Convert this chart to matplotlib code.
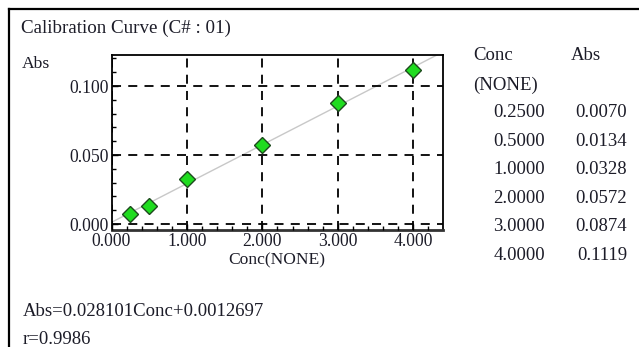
import matplotlib
matplotlib.use('Agg')
import matplotlib.pyplot as plt
from matplotlib.ticker import MultipleLocator, FormatStrFormatter
import numpy as np

plt.rcParams['font.family'] = ['Liberation Serif', 'DejaVu Serif']

# data
conc = [0.25, 0.5, 1.0, 2.0, 3.0, 4.0]
absorb = [0.0070, 0.0134, 0.0328, 0.0572, 0.0874, 0.1119]
slope = 0.028101
intercept = 0.0012697
r_value = 0.9986

W, H = 639, 347
fig = plt.figure(figsize=(W / 100, H / 100), dpi=100)
fig.patch.set_facecolor('white')

def fx(px):
    return px / W

def fy(py):
    return 1 - py / H

# outer frame (left and top only visible)
fig.add_artist(plt.Line2D([fx(9), fx(9)], [fy(9), fy(H + 5)], color='black', lw=1.6))
fig.add_artist(plt.Line2D([fx(9), fx(W + 5)], [fy(9), fy(9)], color='black', lw=1.6))

txt_color = '#1c1c28'

# plot area
ax_l, ax_r, ax_t, ax_b = 111.5, 442.7, 55, 230
ax = fig.add_axes([fx(ax_l), fy(ax_b), fx(ax_r - ax_l), (ax_b - ax_t) / H])

x_line = np.linspace(0, 4.6, 50)
ax.plot(x_line, slope * x_line + intercept, color='#c8c8c8', lw=1.0, zorder=2)
ax.plot(conc, absorb, linestyle='none', marker='D', markersize=8,
        markerfacecolor='#1fdc1f', markeredgecolor='#1d4a1d', markeredgewidth=1.0, zorder=3)

ax.set_xlim(0, 4.39)
ax.set_ylim(-0.0043, 0.1225)

ax.xaxis.set_major_locator(MultipleLocator(1.0))
ax.xaxis.set_minor_locator(MultipleLocator(0.2))
ax.yaxis.set_major_locator(MultipleLocator(0.05))
ax.yaxis.set_minor_locator(MultipleLocator(0.01))
ax.xaxis.set_major_formatter(FormatStrFormatter('%.3f'))
ax.yaxis.set_major_formatter(FormatStrFormatter('%.3f'))

ax.grid(True, which='major', color='black', linestyle=(0, (5, 4)), lw=1.3)
ax.set_axisbelow(False)

ax.tick_params(axis='both', which='major', direction='in', length=4, width=1.0,
               labelsize=12.7, labelcolor=txt_color, pad=2)
ax.tick_params(axis='both', which='minor', direction='in', length=3, width=1.0)
ax.tick_params(axis='x', which='major', pad=2)

for side in ['top', 'right', 'left']:
    ax.spines[side].set_linewidth(1.3)
ax.spines['bottom'].set_linewidth(2.0)
ax.spines['bottom'].set_color('#333333')

ax.set_xlabel('Conc(NONE)', fontsize=12.6, color=txt_color, labelpad=2)

# texts
fig.text(fx(21), fy(28), 'Calibration Curve (C# : 01)', fontsize=13.7, color=txt_color, va='center', ha='left')
fig.text(fx(22), fy(64), 'Abs', fontsize=12.6, color=txt_color, va='center', ha='left')
fig.text(fx(23), fy(311), f'Abs={slope:.6f}Conc+{intercept:.7f}', fontsize=13.5, color=txt_color,
         va='center', ha='left')
fig.text(fx(23), fy(339), f'r={r_value:.4f}', fontsize=13.5, color=txt_color, va='center', ha='left')

# data table
fs_tab = 13.5
fig.text(fx(473), fy(55), 'Conc', fontsize=fs_tab, color=txt_color, va='center', ha='left')
fig.text(fx(571), fy(55), 'Abs', fontsize=fs_tab, color=txt_color, va='center', ha='left')
fig.text(fx(473), fy(85), '(NONE)', fontsize=fs_tab, color=txt_color, va='center', ha='left')
row_y = 113
for c, a in zip(conc, absorb):
    fig.text(fx(545), fy(row_y), f'{c:.4f}', fontsize=fs_tab, color=txt_color, va='center', ha='right')
    fig.text(fx(627), fy(row_y), f'{a:.4f}', fontsize=fs_tab, color=txt_color, va='center', ha='right')
    row_y += 28.4

fig.savefig('out.png', dpi=100, facecolor='white')
